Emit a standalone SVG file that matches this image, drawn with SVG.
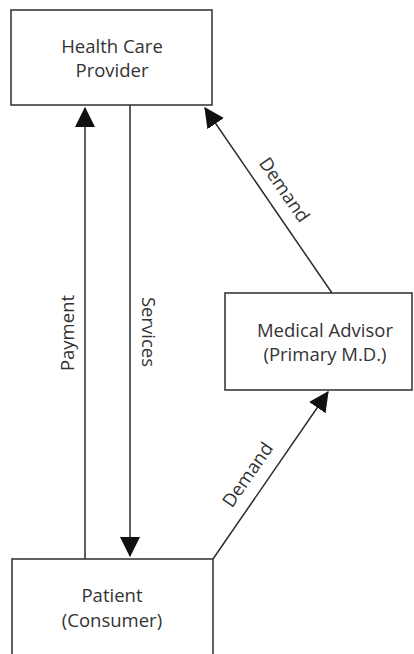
<svg xmlns="http://www.w3.org/2000/svg" width="414" height="654" viewBox="0 0 414 654">
  <style>
    .box { fill: #ffffff; stroke: #3a3a3a; stroke-width: 1.6; }
    .lbl { font-family: "Open Sans", "Liberation Sans", sans-serif; font-size: 18.5px; fill: #333333; text-anchor: middle; }
    .edge { stroke: #2a2a2a; stroke-width: 1.5; fill: none; marker-end: url(#arrow); }
  </style>
  <defs>
    <marker id="arrow" markerUnits="userSpaceOnUse" markerWidth="20" markerHeight="20" refX="17" refY="9" orient="auto" viewBox="0 0 18 18">
      <path d="M0,0 L18,9 L0,18 Z" fill="#111111"/>
    </marker>
  </defs>
  <rect width="414" height="654" fill="#ffffff"/>
  <g id="health-care-provider">
    <rect class="box" x="11" y="10" width="201" height="95"/>
    <text class="lbl" x="112" y="53">Health Care</text>
    <text class="lbl" x="112" y="77">Provider</text>
  </g>
  <g id="medical-advisor">
    <rect class="box" x="225" y="293" width="187" height="97"/>
    <text class="lbl" x="325" y="337">Medical Advisor</text>
    <text class="lbl" x="325" y="361">(Primary M.D.)</text>
  </g>
  <g id="patient">
    <rect class="box" x="12" y="559" width="201" height="110"/>
    <text class="lbl" x="112" y="602">Patient</text>
    <text class="lbl" x="112" y="627">(Consumer)</text>
  </g>
  <g id="connectors">
    <line class="edge" x1="85" y1="559" x2="85" y2="108"/>
    <line class="edge" x1="130" y1="105" x2="130" y2="556"/>
    <line class="edge" x1="332" y1="293" x2="205" y2="108"/>
    <line class="edge" x1="213" y1="559" x2="328" y2="392"/>
    <text class="lbl" transform="translate(68,333) rotate(-90)" y="6">Payment</text>
    <text class="lbl" transform="translate(148,332) rotate(90)" y="6">Services</text>
    <text class="lbl" transform="translate(284,190) rotate(55.5)" y="6">Demand</text>
    <text class="lbl" transform="translate(248,475) rotate(-55.4)" y="6">Demand</text>
  </g>
</svg>
